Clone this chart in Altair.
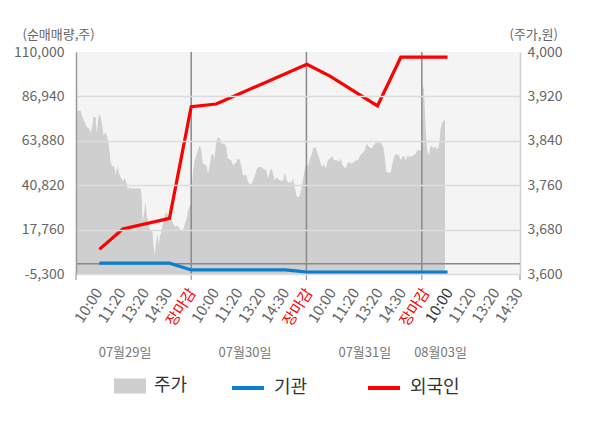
import altair as alt
import pandas as pd

FONT = "Noto Sans CJK KR"

# ---- x-axis labels (one slot per label) ----
tick_labels = ["10:00", "11:20", "13:20", "14:30", "장마감",
               "10:00", "11:20", "13:20", "14:30", "장마감",
               "10:00", "11:20", "13:20", "14:30", "장마감",
               "10:00", "11:20", "13:20", "14:30"]
tick_pos = list(range(1, 20))
tick_colors = ["#666666", "#666666", "#666666", "#666666", "#ff0000",
               "#666666", "#666666", "#666666", "#666666", "#ff0000",
               "#666666", "#666666", "#666666", "#666666", "#ff0000",
               "#333333", "#666666", "#666666", "#666666"]
day_bounds = [4.93, 9.86, 14.8]
axis_ticks = [0, 4.93, 9.86, 14.8, 19]
date_labels = ["07월29일", "07월30일", "07월31일", "08월03일"]
date_pos = [2.1, 7.23, 12.36, 15.6]

left_ticks = [-5300, 17760, 40820, 63880, 86940, 110000]
right_ticks = [3600, 3680, 3760, 3840, 3920, 4000]

# ---- price (주가) ----
price_x = [0.00, 0.06, 0.20, 0.27, 0.34, 0.46, 0.56, 0.63, 0.70, 0.74, 0.84, 0.88, 0.98,
           1.06, 1.13, 1.17, 1.27, 1.34, 1.41, 1.48, 1.55, 1.63, 1.70, 1.77, 1.84, 1.91,
           2.02, 2.08, 2.17, 2.22, 2.28, 2.34, 2.77, 2.81, 2.85, 2.91, 2.97, 3.02, 3.12,
           3.19, 3.27, 3.31, 3.37, 3.42, 3.48, 3.54, 3.59, 3.65, 3.74, 3.79, 3.88, 3.95,
           4.05, 4.12, 4.19, 4.26, 4.34, 4.41, 4.48, 4.59, 4.66, 4.74, 4.79, 4.86, 4.93,
           4.96, 5.01, 5.08, 5.15, 5.22, 5.29, 5.36, 5.43, 5.58, 5.65, 5.72, 5.79, 5.86,
           5.93, 6.00, 6.08, 6.15, 6.22, 6.36, 6.43, 6.50, 6.64, 6.72, 6.79, 6.86, 6.93,
           7.00, 7.07, 7.14, 7.29, 7.36, 7.43, 7.50, 7.57, 7.64, 7.72, 7.79, 7.93, 8.00,
           8.14, 8.21, 8.29, 8.36, 8.43, 8.50, 8.57, 8.71, 8.86, 8.93, 9.00, 9.07, 9.21,
           9.29, 9.36, 9.43, 9.50, 9.57, 9.64, 9.71, 9.78, 9.85,
           9.93, 10.01, 10.07, 10.16, 10.26, 10.33, 10.40, 10.47, 10.54, 10.61, 10.68,
           10.78, 10.87, 10.97, 11.04, 11.18, 11.25, 11.33, 11.40, 11.47, 11.54, 11.61,
           11.68, 11.75, 11.90, 11.97, 12.07, 12.15, 12.25, 12.35, 12.44, 12.54, 12.65,
           12.75, 12.82, 13.04, 13.15, 13.21, 13.28, 13.39, 13.47, 13.54, 13.61, 13.68,
           13.82, 13.89, 13.96, 14.04, 14.11, 14.18, 14.29, 14.39, 14.53, 14.60, 14.81,
           14.83, 14.89, 14.97, 15.03, 15.11, 15.15, 15.22, 15.29, 15.36, 15.42, 15.50,
           15.56, 15.60, 15.67, 15.74, 15.79]
price_v = [3877, 3894, 3894, 3883, 3877, 3865, 3862, 3853, 3868, 3883, 3883, 3853, 3888,
           3883, 3865, 3850, 3855, 3847, 3832, 3802, 3794, 3794, 3778, 3796, 3781, 3775,
           3766, 3774, 3763, 3751, 3757, 3754, 3754, 3739, 3694, 3709, 3730, 3709, 3685,
           3679, 3676, 3655, 3634, 3655, 3673, 3652, 3667, 3676, 3694, 3706, 3712, 3703,
           3703, 3694, 3688, 3685, 3688, 3684, 3679, 3680, 3691, 3700, 3715, 3721, 3727,
           3757, 3784, 3805, 3814, 3823, 3832, 3823, 3799, 3796, 3781, 3794, 3814, 3817,
           3808, 3838, 3847, 3844, 3835, 3835, 3829, 3808, 3805, 3796, 3798, 3802, 3808,
           3806, 3796, 3778, 3778, 3766, 3762, 3760, 3769, 3775, 3787, 3793, 3793, 3790,
           3787, 3772, 3784, 3790, 3781, 3768, 3774, 3769, 3768, 3783, 3772, 3765, 3765,
           3772, 3757, 3742, 3738, 3740, 3754, 3769, 3787, 3798,
           3795, 3808, 3813, 3828, 3828, 3817, 3811, 3799, 3793, 3798, 3790,
           3805, 3808, 3813, 3805, 3805, 3802, 3808, 3796, 3793, 3790, 3799,
           3802, 3799, 3802, 3805, 3805, 3813, 3817, 3822, 3835, 3829, 3826,
           3832, 3837, 3837, 3829, 3811, 3784, 3783, 3783, 3799, 3811, 3816,
           3814, 3805, 3811, 3813, 3804, 3813, 3811, 3813, 3816, 3823, 3823,
           3942, 3932, 3856, 3823, 3813, 3826, 3832, 3826, 3830, 3826, 3826,
           3841, 3862, 3873, 3877, 3877]

# ---- net buying (순매매량) ----
foreign_x = [1, 2, 4, 4.93, 6.0, 9.88, 10.87, 12.9, 13.9, 15.9]
foreign_v = [7500, 18100, 23600, 81600, 83000, 103600, 97500, 82000, 107300, 107300]
inst_x = [1, 2, 4, 4.93, 6.0, 8.95, 9.4, 9.88, 10.87, 12.9, 13.9, 15.9]
inst_v = [300, 300, 300, -3200, -3200, -3200, -3700, -4300, -4300, -4300, -4300, -4300]

line_names = ["기관", "외국인"]
line_colors = ["#0a7fcf", "#ff0000"]
price_name = "주가"
price_color = "#cfcfcf"

price_df = pd.DataFrame({"x": price_x, "v": price_v, "series": price_name})
lines_df = pd.concat([
    pd.DataFrame({"x": inst_x, "v": inst_v, "series": "기관", "o": range(len(inst_x))}),
    pd.DataFrame({"x": foreign_x, "v": foreign_v, "series": "외국인", "o": range(len(foreign_x))}),
])
bounds_df = pd.DataFrame({"x": day_bounds})
ticks_df = pd.DataFrame({"x": axis_ticks})
dates_df = pd.DataFrame({"x": date_pos, "label": date_labels})
xlab_df = pd.DataFrame({"x": tick_pos, "label": tick_labels, "c": tick_colors})
zero_df = pd.DataFrame({"v": [0]})

xscale = alt.Scale(domain=[0, 19], nice=False, zero=False)
lscale = alt.Scale(domain=[-5300, 110000], nice=False, zero=False)
rscale = alt.Scale(domain=[3600, 4000], nice=False, zero=False)

x_axis = alt.Axis(
    values=tick_pos, labels=False, ticks=False, grid=False,
    domainColor="#999999", domainWidth=1.5, title=None,
)

area_color = alt.Color(
    "series:N",
    scale=alt.Scale(domain=[price_name], range=[price_color]),
    legend=alt.Legend(
        orient="none", legendX=38, legendY=318, direction="horizontal", title=None,
        symbolType="M-1,-0.47H1V0.47H-1Z", symbolSize=1024, symbolStrokeWidth=0,
        symbolOpacity=1, labelFontSize=18, labelColor="#333333", labelFont=FONT,
        labelOffset=8, padding=0,
    ),
)

line_color = alt.Color(
    "series:N",
    scale=alt.Scale(domain=line_names, range=line_colors),
    legend=alt.Legend(
        orient="none", legendX=154, legendY=318, direction="horizontal", title=None,
        symbolType="stroke", symbolSize=1024, symbolStrokeWidth=4,
        labelFontSize=18, labelColor="#333333", labelFont=FONT, labelOffset=8,
        columnPadding=52, padding=0,
    ),
)

area = alt.Chart(price_df).mark_area(opacity=1, interpolate="linear").encode(
    x=alt.X("x:Q", scale=xscale, axis=x_axis),
    y=alt.Y("v:Q", scale=rscale, axis=alt.Axis(
        orient="right", values=right_ticks, format=",.0f", ticks=False, labelPadding=7,
        labelFontSize=14, labelFont=FONT, labelColor="#666666", labelFlush=False,
        grid=False, domainColor="#d0d0d0", domainWidth=1.5,
        title="(주가,원)", titleAngle=0, titleX=-11, titleY=-18, titleAlign="left",
        titleBaseline="middle", titleFontSize=13, titleFontWeight="normal",
        titleColor="#666666", titleFont=FONT)),
    y2=alt.datum(3600),
    color=area_color,
)

zero_rule = alt.Chart(zero_df).mark_rule(color="#888888", strokeWidth=1.5).encode(
    y=alt.Y("v:Q", scale=lscale, axis=None),
)

day_rules = alt.Chart(bounds_df).mark_rule(color="#8a8a8a", strokeWidth=1.5).encode(
    x=alt.X("x:Q", scale=xscale, axis=None),
)

tick_rules = alt.Chart(ticks_df).mark_rule(color="#999999", strokeWidth=1.2).encode(
    x=alt.X("x:Q", scale=xscale, axis=None),
    y=alt.value(222), y2=alt.value(228),
)

lines = alt.Chart(lines_df).mark_line(strokeWidth=3.2).encode(
    x=alt.X("x:Q", scale=xscale, axis=None),
    y=alt.Y("v:Q", scale=lscale, axis=alt.Axis(
        orient="left", values=left_ticks, format=",.0f", ticks=False, labelPadding=12,
        labelFontSize=14, labelFont=FONT, labelColor="#666666", labelFlush=False,
        labelExpr="replace(datum.label, '\u2212', '-')",
        grid=True, gridWidth=1.5,
        gridColor={"condition": {"test": "datum.value == 110000", "value": "transparent"},
                   "value": "#dcdcdc"},
        domainColor="#999999", domainWidth=1.5, zindex=1,
        title="(순매매량,주)", titleAngle=0, titleX=-54, titleY=-18, titleAlign="left",
        titleBaseline="middle", titleFontSize=13, titleFontWeight="normal",
        titleColor="#666666", titleFont=FONT)),
    color=line_color,
    order="o:Q",
)

xlabels = alt.Chart(xlab_df).mark_text(
    font=FONT, fontSize=15, angle=303, align="right", baseline="middle", dx=-1
).encode(
    x=alt.X("x:Q", scale=xscale, axis=None),
    y=alt.value(237),
    text="label:N",
    color=alt.Color("c:N", scale=None, legend=None),
)

dates = alt.Chart(dates_df).mark_text(
    font=FONT, fontSize=13, color="#777777", align="center", baseline="middle"
).encode(
    x=alt.X("x:Q", scale=xscale, axis=None),
    y=alt.value(301),
    text="label:N",
)

chart = alt.layer(area, zero_rule, day_rules, tick_rules, lines, xlabels, dates).resolve_scale(
    y="independent", color="independent"
).properties(
    width=444, height=222,
    autosize=alt.AutoSizeParams(type="none"),
    padding={"left": 68, "top": 44, "right": 60, "bottom": 130},
).configure_view(fill="#f4f4f4", strokeWidth=0)

chart.save("out.html", embed_options={"renderer": "svg", "actions": False})
